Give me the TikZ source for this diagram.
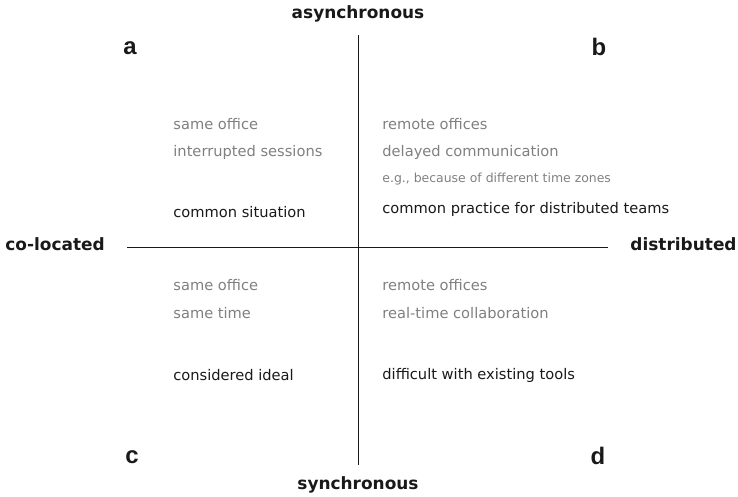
\documentclass[tikz,border=0pt]{standalone}
\usepackage{fontspec}
\setmainfont{DejaVu Sans}
\newfontfamily\letterfont{Liberation Sans}
\usepackage{xcolor}
\usepackage{tikz}
\usetikzlibrary{positioning,calc}
\definecolor{QDgray}{RGB}{128,128,128}
\definecolor{QDblack}{RGB}{25,25,25}
\tikzstyle{axlbl} = [inner sep=0pt, font=\fontsize{17}{20}\selectfont\bfseries, text=QDblack]
\tikzstyle{qlet}  = [inner sep=0pt, font=\letterfont\fontsize{24}{27}\selectfont\bfseries, text=QDblack]
\tikzstyle{gtxt}  = [inner sep=0pt, anchor=west, font=\fontsize{14.7}{17}\selectfont, text=QDgray]
\tikzstyle{stxt}  = [gtxt, font=\fontsize{12.5}{15}\selectfont]
\tikzstyle{btxt}  = [gtxt, text=QDblack]

\begin{document}
\begin{tikzpicture}[x=1bp, y=-1bp, thick]
  \useasboundingbox (0,0) rectangle (738,497);
  % axes
  \coordinate (top) at (358,35);
  \coordinate (bot) at (358,465);
  \coordinate (lft) at (127,247);
  \coordinate (rgt) at (608,247);
  \draw[line width=0.9bp, QDblack] (top) -- (bot);
  \draw[line width=0.9bp, QDblack] (lft) -- (rgt);

  \node[axlbl] (async) at (358,14)  {asynchronous};
  \node[axlbl] (sync)  at (358,485) {synchronous};
  \node[axlbl, anchor=west] (coloc) at (5,244)   {co-located};
  \node[axlbl, anchor=east] (distr) at (737,244) {distributed};

  \node[qlet] (la) at (130,48)  {a};
  \node[qlet] (lb) at (599,47)  {b};
  \node[qlet] (lc) at (132,457) {c};
  \node[qlet] (ld) at (598,456) {d};

  % quadrant a
  \node[gtxt] (aoff)  at (173,124) {same office};
  \node[gtxt] (aint)  at (173,152) {interrupted sessions};
  \node[btxt] (acom)  at (173,212) {common situation};
  % quadrant b
  \node[gtxt] (boff)  at (382,124) {remote offices};
  \node[gtxt] (bdel)  at (382,152) {delayed communication};
  \node[stxt] (beg)   at (382,179) {e.g., because of different time zones};
  \node[btxt] (bcom)  at (382,209) {common practice for distributed teams};
  % quadrant c
  \node[gtxt] (coff)  at (173,285) {same office};
  \node[gtxt] (ctim)  at (173,313) {same time};
  \node[btxt] (cide)  at (173,375) {considered ideal};
  % quadrant d
  \node[gtxt] (doff)  at (382,285) {remote offices};
  \node[gtxt] (drt)   at (382,313) {real-time collaboration};
  \node[btxt] (ddif)  at (382,375) {difficult with existing tools};
\end{tikzpicture}
\end{document}
